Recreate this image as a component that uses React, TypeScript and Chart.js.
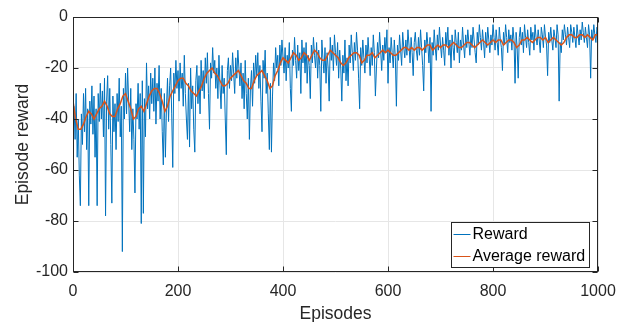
import React, { useEffect, useRef } from "react";
import { Chart, registerables } from "chart.js";
Chart.register(...registerables);

// Reward sampled every 2 episodes (episodes 2..1000)
const rewardEpisodeStep = 2;
const rewardValues = [
  // 2..50
  -35, -48, -30, -55, -40, -62, -74, -38, -50, -30, -45, -28, -52, -36, -74, -33, -42, -27, -46, -31, -55, -36, -74, -30, -41,
  // 52..100
  -26, -40, -29, -47, -24, -78, -33, -23, -44, -28, -50, -73, -31, -45, -34, -52, -30, -41, -24, -47, -35, -92, -28, -40, -22,
  // 102..150
  -38, -20, -33, -45, -28, -52, -36, -48, -69, -34, -40, -26, -44, -30, -81, -25, -77, -32, -47, -18, -36, -27, -40, -22, -34,
  // 152..200
  -24, -37, -20, -42, -26, -33, -19, -40, -28, -45, -58, -30, -55, -36, -24, -41, -27, -20, -38, -59, -22, -30, -17, -28, -21,
  // 202..250
  -33, -18, -28, -22, -35, -15, -30, -40, -48, -26, -51, -20, -36, -27, -44, -53, -25, -19, -34, -23, -38, -17, -29, -21, -32,
  // 252..300
  -16, -26, -14, -30, -44, -18, -24, -12, -22, -17, -28, -20, -32, -15, -27, -36, -19, -30, -24, -40, -54, -21, -16, -28, -19,
  // 302..350
  -25, -14, -22, -30, -16, -24, -13, -20, -27, -18, -32, -22, -36, -17, -30, -40, -24, -48, -28, -21, -35, -18, -26, -15, -23,
  // 352..400
  -14, -28, -19, -33, -45, -17, -24, -13, -30, -22, -38, -52, -26, -53, -31, -18, -25, -12, -20, -15, -27, -11, -19, -9, -16,
  // 402..450
  -22, -12, -25, -15, -20, -10, -28, -37, -13, -19, -8, -17, -24, -11, -21, -14, -30, -9, -18, -12, -22, -10, -26, -15, -19,
  // 452..500
  -32, -11, -18, -8, -15, -20, -10, -24, -13, -19, -37, -9, -16, -22, -12, -26, -14, -20, -33, -8, -17, -11, -21, -7, -14,
  // 502..550
  -19, -10, -24, -13, -20, -33, -15, -22, -9, -25, -16, -27, -11, -18, -7, -14, -21, -10, -17, -6, -13, -24, -36, -12, -19,
  // 552..600
  -9, -16, -22, -11, -18, -8, -15, -23, -12, -19, -7, -14, -31, -20, -10, -16, -6, -13, -21, -11, -17, -8, -14, -5, -26,
  // 602..650
  -12, -18, -8, -14, -20, -9, -16, -35, -11, -17, -7, -13, -19, -6, -12, -16, -9, -15, -5, -11, -18, -8, -14, -23, -10,
  // 652..700
  -6, -13, -17, -8, -15, -5, -12, -19, -29, -9, -14, -6, -11, -18, -8, -37, -10, -15, -5, -12, -17, -7, -13, -4, -11,
  // 702..750
  -16, -8, -13, -19, -6, -11, -4, -15, -9, -20, -7, -12, -17, -5, -10, -14, -6, -18, -9, -13, -4, -11, -16, -7, -12,
  // 752..800
  -5, -10, -15, -7, -12, -4, -9, -14, -18, -6, -11, -3, -8, -13, -5, -10, -16, -6, -12, -4, -9, -14, -7, -11, -3,
  // 802..850
  -8, -13, -5, -10, -15, -4, -9, -12, -21, -6, -11, -3, -8, -14, -5, -10, -7, -13, -4, -9, -26, -6, -12, -24, -8,
  // 852..900
  -4, -11, -6, -14, -3, -8, -12, -5, -10, -15, -4, -9, -6, -13, -3, -8, -11, -5, -9, -14, -4, -7, -12, -3, -8,
  // 902..950
  -11, -23, -6, -10, -4, -9, -13, -5, -8, -12, -3, -7, -33, -10, -14, -5, -9, -3, -7, -11, -4, -8, -12, -3, -6,
  // 952..1000
  -10, -4, -8, -12, -3, -7, -11, -5, -9, -2, -6, -10, -4, -8, -12, -3, -7, -24, -5, -9, -3, -7, -10, -4, -6,
];

// Average reward sampled every 5 episodes (episodes 0..1000)
const avgEpisodeStep = 5;
const avgValues = [
  -33, -40, -44, -44, -42, -39, -37, -38, -40, -38, -36, -35, -33, -35, -38, -39, -39, -36, -34, -31,
  -30, -33, -36, -40, -39, -36, -35, -37, -34, -31, -29, -28, -28, -30, -33, -37, -35, -31, -29, -27,
  -25, -24, -24, -26, -27, -29, -30, -31, -29, -27, -24, -22, -21, -20, -22, -23, -25, -27, -27, -26,
  -24, -23, -22, -21, -23, -25, -26, -28, -28, -25, -23, -22, -21, -23, -25, -28, -27, -23, -21, -18,
  -16, -17, -18, -16, -14, -15, -17, -16, -14, -15, -17, -15, -13, -14, -16, -17, -17, -15, -13, -14,
  -15, -16, -18, -19, -18, -16, -15, -14, -14, -15, -18, -17, -15, -15, -14, -16, -15, -14, -13, -14,
  -13, -14, -15, -15, -14, -13, -12, -12, -13, -12, -13, -12, -12, -13, -12, -11, -11, -13, -12, -11,
  -12, -11, -11, -12, -11, -10, -11, -12, -12, -11, -10, -10, -11, -12, -11, -10, -9, -10, -11, -10,
  -9, -10, -9, -9, -11, -10, -9, -9, -10, -12, -11, -9, -9, -8, -9, -10, -9, -8, -8, -9,
  -8, -10, -9, -8, -9, -10, -11, -10, -8, -7, -7, -8, -8, -7, -7, -8, -7, -8, -9, -7,
  -7,
];

const xTickValues = [0, 200, 400, 600, 800, 1000];
const yTickValues = [0, -20, -40, -60, -80, -100];
const seriesLabels = ["Reward", "Average reward"];
const seriesColors = ["#0072BD", "#D95319"];
const axisTitles = ["Episodes", "Episode reward"];

const FONT = "'Liberation Sans', Arial, Helvetica, sans-serif";
const AXIS_COLOR = "#262626";

const framePlugin = {
  id: "frameAndLegend",
  afterDraw(chart: any) {
    const { ctx, chartArea: a, scales } = chart;
    const L = Math.round(a.left) + 0.5;
    const R = Math.round(a.right) - 0.5;
    const T = Math.round(a.top) + 0.5;
    const B = Math.round(a.bottom) - 0.5;
    ctx.save();
    ctx.strokeStyle = AXIS_COLOR;
    ctx.lineWidth = 1;
    ctx.strokeRect(L, T, R - L, B - T);
    const tl = 5;
    ctx.beginPath();
    for (const v of xTickValues) {
      const px = Math.round(scales.x.getPixelForValue(v)) + 0.5;
      ctx.moveTo(px, B); ctx.lineTo(px, B - tl);
      ctx.moveTo(px, T); ctx.lineTo(px, T + tl);
    }
    for (const v of yTickValues) {
      const py = Math.round(scales.y.getPixelForValue(v)) + 0.5;
      ctx.moveTo(L, py); ctx.lineTo(L + tl, py);
      ctx.moveTo(R, py); ctx.lineTo(R - tl, py);
    }
    ctx.stroke();

    // legend
    ctx.font = `16px ${FONT}`;
    const textW = Math.max(...seriesLabels.map((s) => ctx.measureText(s).width));
    const boxW = Math.round(21 + textW + 4);
    const boxH = 45;
    const boxRight = Math.round(a.right) - 9;
    const boxBottom = Math.round(a.bottom) - 5;
    const bx = boxRight - boxW + 0.5;
    const by = boxBottom - boxH + 0.5;
    ctx.fillStyle = "#ffffff";
    ctx.fillRect(bx, by, boxW, boxH);
    ctx.strokeStyle = AXIS_COLOR;
    ctx.strokeRect(bx, by, boxW, boxH);
    const rows = [12, 34];
    seriesLabels.forEach((lab, i) => {
      const yy = by + rows[i];
      ctx.strokeStyle = seriesColors[i];
      ctx.lineWidth = 1;
      ctx.beginPath();
      ctx.moveTo(bx + 2, yy);
      ctx.lineTo(bx + 19, yy);
      ctx.stroke();
      ctx.fillStyle = "#000000";
      ctx.textBaseline = "middle";
      ctx.textAlign = "left";
      ctx.fillText(lab, bx + 21, yy);
    });
    ctx.restore();
  },
};

export default function App() {
  const ref = useRef<HTMLCanvasElement | null>(null);
  useEffect(() => {
    if (!ref.current) return;
    const rewardData = rewardValues.map((v, i) => ({ x: (i + 1) * rewardEpisodeStep, y: v }));
    const avgData = avgValues.map((v, i) => ({ x: i * avgEpisodeStep, y: v }));
    const chart = new Chart(ref.current, {
      type: "line",
      data: {
        datasets: [
          {
            label: seriesLabels[0],
            data: rewardData,
            borderColor: seriesColors[0],
            borderWidth: 1,
            pointRadius: 0,
            tension: 0,
            order: 1,
          },
          {
            label: seriesLabels[1],
            data: avgData,
            borderColor: seriesColors[1],
            borderWidth: 1.5,
            pointRadius: 0,
            tension: 0,
            order: 0,
          },
        ],
      },
      options: {
        animation: false,
        responsive: false,
        parsing: false,
        normalized: true,
        layout: { padding: { left: 0, right: 28, top: 17, bottom: 0 } },
        plugins: { legend: { display: false }, tooltip: { enabled: false } },
        scales: {
          x: {
            type: "linear",
            min: 0,
            max: 1000,
            afterFit: (s: any) => { s.height = 50; },
            afterBuildTicks: (s: any) => { s.ticks = xTickValues.map((v) => ({ value: v })); },
            grid: { color: "#e6e6e6", drawTicks: false, lineWidth: 1 },
            border: { display: false },
            ticks: {
              color: AXIS_COLOR,
              font: { family: FONT, size: 16 },
              padding: 10,
              maxRotation: 0,
              callback: (v: any) => String(v),
            },
            title: { display: true, text: axisTitles[0], color: AXIS_COLOR, font: { family: FONT, size: 17.5 }, padding: { top: 0, bottom: -3 } },
          },
          y: {
            type: "linear",
            min: -100,
            max: 0,
            afterFit: (s: any) => { s.width = 73; },
            afterBuildTicks: (s: any) => { s.ticks = yTickValues.map((v) => ({ value: v })); },
            grid: { color: "#e6e6e6", drawTicks: false, lineWidth: 1 },
            border: { display: false },
            ticks: { color: AXIS_COLOR, font: { family: FONT, size: 16 }, padding: 5, callback: (v: any) => String(v) },
            title: { display: true, text: axisTitles[1], color: AXIS_COLOR, font: { family: FONT, size: 17.5 }, padding: { top: 13, bottom: 0 } },
          },
        },
      },
      plugins: [framePlugin],
    });
    return () => chart.destroy();
  }, []);
  return (
    <div style={{ position: "fixed", left: 0, top: 0, width: 626, height: 322, background: "#fff" }}>
      <canvas ref={ref} width={626} height={322} style={{ display: "block" }} />
    </div>
  );
}
